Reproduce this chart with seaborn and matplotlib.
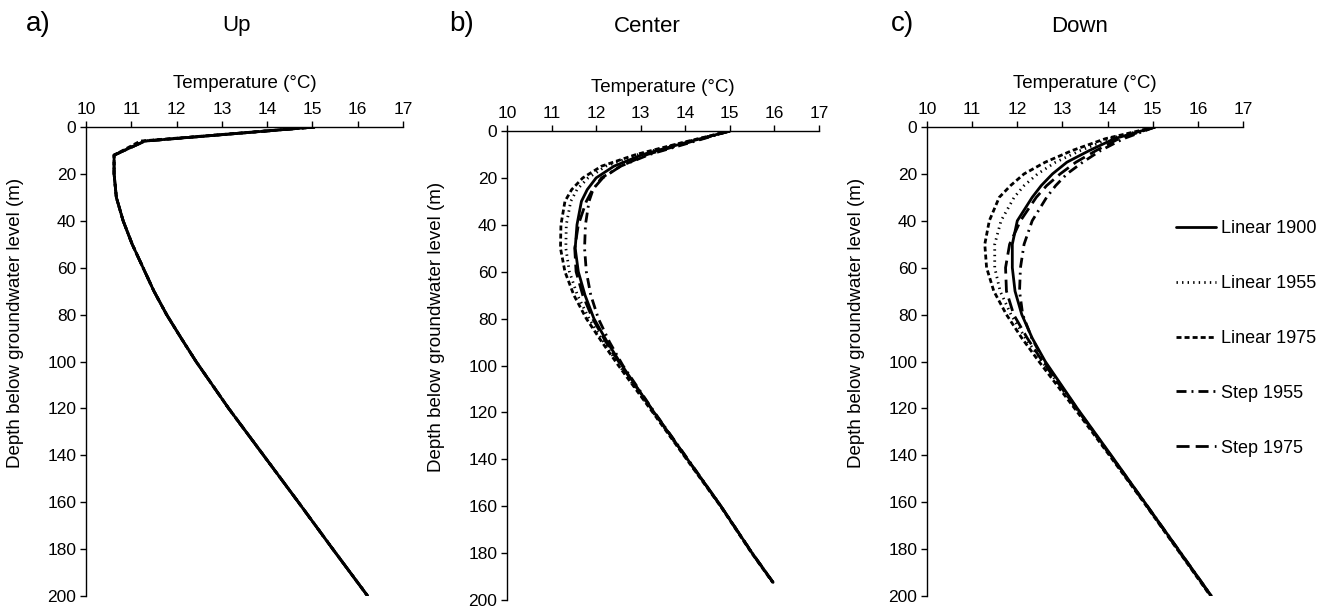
import numpy as np
import pandas as pd
import matplotlib
matplotlib.use("Agg")
import matplotlib.pyplot as plt
import seaborn as sns

sns.set_style("ticks")
plt.rcParams["font.family"] = ["Liberation Sans", "DejaVu Sans"]
plt.rcParams["text.color"] = "black"
plt.rcParams["axes.labelcolor"] = "black"
plt.rcParams["xtick.color"] = "black"
plt.rcParams["ytick.color"] = "black"

# Scenario names (legend order)
series = ["Linear 1900", "Linear 1955", "Linear 1975", "Step 1955", "Step 1975"]

# Panel a) Up: depth below groundwater level (m) and temperature (°C)
depth_up = [0, 6, 12, 20, 30, 40, 50, 60, 70, 80, 90, 100, 120, 140, 160, 180, 200]
tail_up = [10.62, 10.62, 10.67, 10.82, 11.02, 11.26, 11.5, 11.78, 12.1, 12.43,
           13.15, 13.92, 14.69, 15.45, 16.22]
up_lin1900 = [15.05, 11.30] + tail_up
up_lin1955 = [15.05, 11.27] + tail_up
up_lin1975 = [15.05, 11.20] + tail_up
up_step1955 = [15.05, 11.30] + tail_up
up_step1975 = [15.05, 11.30] + tail_up

# Panel b) Center
depth_center = [0, 5, 10, 15, 20, 25, 30, 40, 50, 60, 70, 80, 90, 100, 120, 140, 160, 180, 192.5]
center_lin1900 = [15.0, 14.0, 13.05, 12.4, 12.0, 11.8, 11.67, 11.57, 11.53, 11.6, 11.75, 11.95,
                  12.25, 12.58, 13.3, 14.05, 14.8, 15.5, 15.97]
center_lin1955 = [15.0, 13.95, 12.95, 12.22, 11.82, 11.57, 11.43, 11.33, 11.32, 11.4, 11.58, 11.84,
                  12.17, 12.52, 13.28, 14.04, 14.8, 15.5, 15.97]
center_lin1975 = [15.0, 13.92, 12.9, 12.12, 11.7, 11.45, 11.3, 11.21, 11.2, 11.3, 11.5, 11.78,
                  12.13, 12.5, 13.27, 14.03, 14.79, 15.49, 15.96]
center_step1955 = [15.0, 14.1, 13.2, 12.55, 12.12, 11.93, 11.84, 11.76, 11.74, 11.78, 11.88, 12.05,
                   12.3, 12.6, 13.31, 14.06, 14.8, 15.5, 15.97]
center_step1975 = [15.0, 14.05, 13.15, 12.55, 12.15, 11.92, 11.78, 11.6, 11.52, 11.55, 11.7, 11.92,
                   12.22, 12.56, 13.3, 14.05, 14.8, 15.5, 15.97]

# Panel c) Down
depth_down = [0, 5, 10, 15, 20, 25, 30, 40, 50, 60, 70, 80, 90, 100, 120, 140, 160, 180, 200]
down_lin1900 = [15.05, 14.15, 13.6, 13.1, 12.78, 12.53, 12.33, 12.0, 11.89, 11.89, 11.95, 12.1,
                12.33, 12.62, 13.33, 14.08, 14.82, 15.56, 16.3]
down_lin1955 = [15.05, 14.05, 13.4, 12.85, 12.45, 12.15, 11.93, 11.64, 11.5, 11.5, 11.62, 11.86,
                12.18, 12.55, 13.3, 14.06, 14.81, 15.55, 16.29]
down_lin1975 = [15.05, 13.95, 13.22, 12.62, 12.15, 11.85, 11.6, 11.38, 11.28, 11.32, 11.48, 11.76,
                12.1, 12.48, 13.27, 14.04, 14.8, 15.54, 16.28]
down_step1955 = [15.05, 14.35, 13.85, 13.45, 13.1, 12.85, 12.65, 12.33, 12.15, 12.07, 12.05, 12.12,
                 12.32, 12.6, 13.32, 14.07, 14.82, 15.56, 16.3]
down_step1975 = [15.05, 14.25, 13.75, 13.3, 12.95, 12.65, 12.42, 12.07, 11.83, 11.74, 11.76, 11.92,
                 12.22, 12.56, 13.31, 14.06, 14.81, 15.55, 16.29]

panel_letters = ["a)", "b)", "c)"]
panel_titles = ["Up", "Center", "Down"]
x_ticks = [10, 11, 12, 13, 14, 15, 16, 17]
y_ticks = [0, 20, 40, 60, 80, 100, 120, 140, 160, 180, 200]


def long_frame(depth, curves):
    rows = []
    for name, temps in zip(series, curves):
        for d, t in zip(depth, temps):
            rows.append({"Scenario": name, "Depth": d, "Temperature": t})
    return pd.DataFrame(rows)


frames = [
    long_frame(depth_up, [up_lin1900, up_lin1955, up_lin1975, up_step1955, up_step1975]),
    long_frame(depth_center, [center_lin1900, center_lin1955, center_lin1975,
                              center_step1955, center_step1975]),
    long_frame(depth_down, [down_lin1900, down_lin1955, down_lin1975,
                            down_step1955, down_step1975]),
]

dash_map = {
    "Linear 1900": "",
    "Linear 1955": (0.5, 1.5),
    "Linear 1975": (1.8, 1.1),
    "Step 1955": (3.6, 1.8, 0.7, 1.8),
    "Step 1975": (4.7, 2.2),
}

W, H = 1333, 608
fig = plt.figure(figsize=(W / 100, H / 100), dpi=100)

# axes boxes in pixels: left, top, right, bottom
boxes = [(86, 127, 403, 596), (507, 131, 819, 600), (927, 127, 1243, 596)]
letter_x = [26, 449, 891]
title_x = [236, 647, 1080]

for i, (df, box) in enumerate(zip(frames, boxes)):
    l, t, r, b = box
    ax = fig.add_axes([l / W, 1 - b / H, (r - l) / W, (b - t) / H])
    sns.lineplot(data=df, x="Temperature", y="Depth", style="Scenario",
                 style_order=series, dashes=dash_map, color="black",
                 linewidth=2.0, sort=False, estimator=None,
                 legend=(i == 2), ax=ax)
    ax.set_xlim(10, 17)
    ax.set_ylim(200, 0)
    ax.set_xticks(x_ticks)
    ax.set_yticks(y_ticks)
    ax.xaxis.tick_top()
    ax.xaxis.set_label_position("top")
    ax.set_xlabel("Temperature (°C)", fontsize=13.5, labelpad=10)
    ax.set_ylabel("Depth below groundwater level (m)", fontsize=13.5)
    ax.yaxis.set_label_coords(-62 / (r - l), 0.582)
    ax.tick_params(axis="both", labelsize=12.5, length=4, width=1, color="black",
                   direction="out")
    ax.tick_params(axis="x", pad=3)
    ax.tick_params(axis="y", pad=3)
    for side in ["right", "bottom"]:
        ax.spines[side].set_visible(False)
    for side in ["top", "left"]:
        ax.spines[side].set_color("black")
        ax.spines[side].set_linewidth(1.0)

    fig.text(letter_x[i] / W, 1 - 24 / H, panel_letters[i], fontsize=20,
             ha="left", va="center")
    fig.text(title_x[i] / W, 1 - 26 / H, panel_titles[i], fontsize=16,
             ha="center", va="center")

    if i == 2:
        l0, t0, r0, b0 = box
        sns.move_legend(ax, loc="upper left",
                        bbox_to_anchor=((1176 - l0) / (r0 - l0), 1 - (220 - t0) / (b0 - t0)),
                        frameon=False, title=None, fontsize=13,
                        handlelength=2.2, handletextpad=0.3, labelspacing=2.1,
                        borderpad=0, borderaxespad=0)

fig.savefig("out.png", dpi=100, facecolor="white")
